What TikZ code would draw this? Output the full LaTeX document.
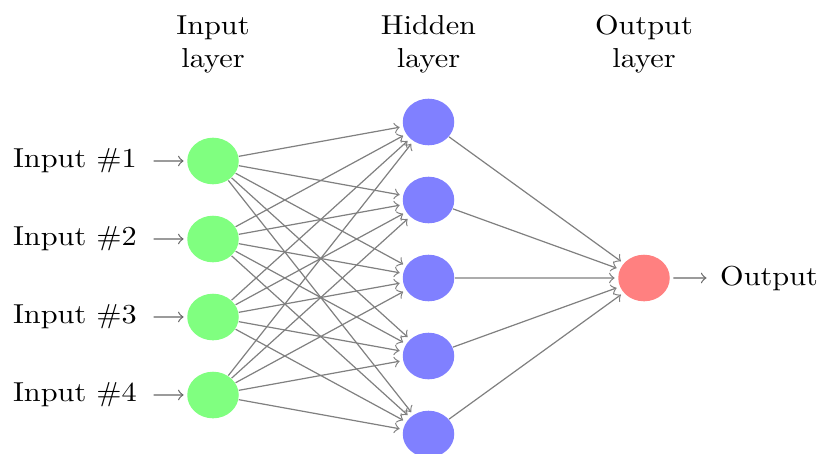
\documentclass[tikz,border=0pt]{standalone}
\tikzset{
 neuron/.style={circle,fill=black!25,minimum size=17pt,inner sep=0pt},
 input neuron/.style={neuron,fill=green!50},
 output neuron/.style={neuron,fill=red!50},
 hidden neuron/.style={neuron,fill=blue!50},
 annot/.style={text width=4em,text centered},
 every pin edge/.style={<-,shorten <=1pt,shorten >=2pt,draw=black!60},
 link/.style={->,shorten >=1pt,draw=black!50}
}
\begin{document}
\begin{tikzpicture}[yscale=0.9049,transform shape]
\useasboundingbox (-2.471,1.064) rectangle (7.030,-4.756);
\foreach \y in {1,...,4}
  \node[input neuron,pin=left:Input \#\y] (I-\y) at (0,-\y) {};
\foreach \y in {1,...,5}
  \node[hidden neuron] (H-\y) at (2.5,-\y+0.5) {};
\node[output neuron,pin={[pin edge={->,shorten <=1pt,shorten >=1pt}]right:Output}] (O) at (5,-2.5) {};
\foreach \s in {1,...,4}
  \foreach \d in {1,...,5}
    \draw[link] (I-\s) -- (H-\d);
\foreach \s in {1,...,5}
  \draw[link] (H-\s) -- (O);
\node[annot] (il) at (0,0.5) {Input layer};
\node[annot] (hl) at (2.5,0.5) {Hidden layer};
\node[annot] (ol) at (5,0.5) {Output layer};
\end{tikzpicture}
\end{document}
